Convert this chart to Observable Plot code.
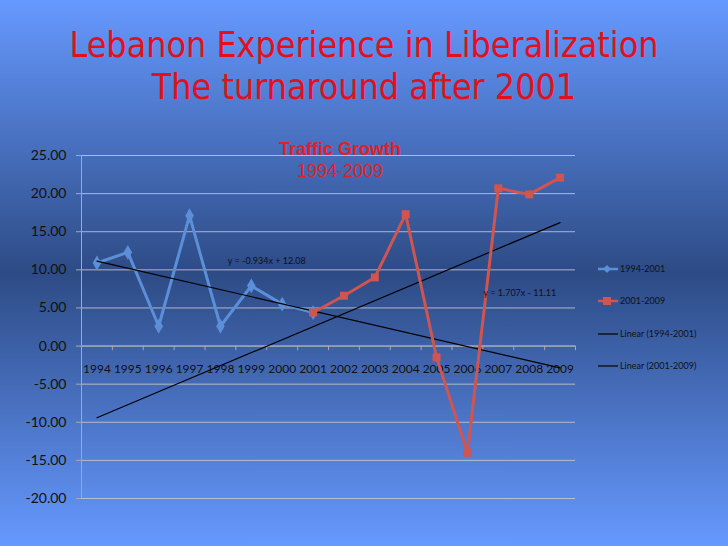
<!DOCTYPE html>
<html>
<head>
<meta charset="utf-8">
<script src="https://cdn.jsdelivr.net/npm/d3@7"></script>
<script src="https://cdn.jsdelivr.net/npm/@observablehq/plot@0.6"></script>
<style>
  html, body { margin: 0; padding: 0; }
  #page {
    position: relative; width: 728px; height: 546px; overflow: hidden;
    background: linear-gradient(to bottom, #6699ff 0%, #2d4b85 50%, #6699ff 100%);
  }
  #title {
    position: absolute; left: 0; top: 0; width: 728px; height: 130px;
    text-align: center; color: #e3101c;
    font-family: "DejaVu Sans", sans-serif; font-stretch: condensed;
    font-size: 35.5px; line-height: 42px; padding-top: 24px; box-sizing: border-box;
  }
  #chart { position: absolute; left: 0; top: 130px; }
  .ct { position: absolute; width: 200px; text-align: center; color: #e3202a;
        font-family: "Liberation Sans", Arial, sans-serif; font-size: 18px; line-height: 20px; }
  #legend { position: absolute; left: 596px; top: 262px; font-family: Lato, sans-serif;
            font-size: 9px; color: #111; }
  .li { position: absolute; left: 0; height: 14px; white-space: nowrap; }
  .li svg { position: absolute; left: 0; top: 0; }
  .li span { position: absolute; left: 24px; top: 1px; }
</style>
</head>
<body>
<div id="page">
  <div id="title">Lebanon Experience in Liberalization<br>The turnaround after 2001</div>
  <div id="chart"></div>
  <div class="ct" style="left:240px; top:139px; font-weight:bold;">Traffic Growth</div>
  <div class="ct" style="left:240px; top:161px;">1994-2009</div>
  <div id="legend"></div>
</div>
<script>
// Categories
const years = [1994,1995,1996,1997,1998,1999,2000,2001,2002,2003,2004,2005,2006,2007,2008,2009];
// Series "1994-2001"
const years1 = [1994,1995,1996,1997,1998,1999,2000,2001];
const values1 = [10.9, 12.3, 2.6, 17.1, 2.6, 7.9, 5.5, 4.4];
// Series "2001-2009"
const years2 = [2001,2002,2003,2004,2005,2006,2007,2008,2009];
const values2 = [4.4, 6.6, 9.0, 17.3, -1.5, -14.0, 20.7, 19.9, 22.1];
// Linear trend lines (endpoint values)
const trendYears = [1994, 2009];
const trend1Values = [11.15, -2.86];
const trend2Values = [-9.40, 16.20];
// Trend equations
const eqLabels = ["y = -0.934x + 12.08", "y = 1.707x - 11.11"];
const eqYears = [1999.5, 2007.7];
const eqValues = [11.2, 7.0];
// Y ticks
const yTicks = [-20,-15,-10,-5,0,5,10,15,20,25];
// Legend
const legendLabels = ["1994-2001", "2001-2009", "Linear (1994-2001)", "Linear (2001-2009)"];

const blue = "#5b8fd8", red = "#d0544f";
const s1 = years1.map((y, i) => ({year: y, value: values1[i]}));
const s2 = years2.map((y, i) => ({year: y, value: values2[i]}));
const t1 = trendYears.map((y, i) => ({year: y, value: trend1Values[i]}));
const t2 = trendYears.map((y, i) => ({year: y, value: trend2Values[i]}));
const eq = eqLabels.map((t, i) => ({text: t, year: eqYears[i], value: eqValues[i]}));
const bounds = [years[0] - 0.5, ...years.map(y => y + 0.5)];

const chart = Plot.plot({
  width: 728, height: 416,
  marginLeft: 81, marginRight: 153, marginTop: 25, marginBottom: 48,
  style: {background: "transparent", fontFamily: "Lato, sans-serif"},
  x: {domain: [years[0] - 0.5, years[years.length - 1] + 0.5], axis: null},
  y: {domain: [-20, 25], axis: null},
  marks: [
    Plot.gridY(yTicks, {stroke: "#c8c8c8", strokeOpacity: 0.85, strokeWidth: 1}),
    Plot.ruleX([bounds[0]], {stroke: "#a8a8b0", strokeWidth: 1}),
    Plot.ruleY([0], {stroke: "#a8a8b0", strokeWidth: 1}),
    Plot.ruleX(bounds, {x: d => d, y1: 0, y2: -0.6, stroke: "#a8a8b0"}),
    Plot.axisY(yTicks, {anchor: "left", label: null, tickSize: 5, tickPadding: 10, stroke: "#a8a8b0",
      tickFormat: d => d.toFixed(2), fontSize: 14, fill: "#111", textStroke: "none"}),
    Plot.text(years, {x: d => d, y: () => 0, dy: 23, text: d => String(d), fontSize: 12, fill: "#111"}),
    Plot.line(s1, {x: "year", y: "value", stroke: blue, strokeWidth: 3}),
    Plot.dot(s1, {x: "year", y: "value", symbol: "diamond", r: 4.5, fill: blue}),
    Plot.line(t1, {x: "year", y: "value", stroke: "#000", strokeWidth: 1.2}),
    Plot.line(t2, {x: "year", y: "value", stroke: "#000", strokeWidth: 1.2}),
    Plot.line(s2, {x: "year", y: "value", stroke: red, strokeWidth: 3}),
    Plot.dot(s2, {x: "year", y: "value", symbol: "square", r: 4.5, fill: red}),
    Plot.text(eq, {x: "year", y: "value", text: "text", fontSize: 9, fill: "#111"})
  ]
});
document.getElementById("chart").appendChild(chart);

// Legend
const legend = document.getElementById("legend");
const legendStyles = [
  {stroke: blue, w: 2.5, sym: "diamond", fill: blue},
  {stroke: red, w: 2.5, sym: "square", fill: red},
  {stroke: "#000", w: 1.2, sym: null},
  {stroke: "#000", w: 1.2, sym: null}
];
legendLabels.forEach((lab, i) => {
  const st = legendStyles[i];
  const div = document.createElement("div");
  div.className = "li";
  div.style.top = (i * 32.3) + "px";
  let sym = "";
  if (st.sym === "diamond") sym = `<path d="M11,3 L15,7 L11,11 L7,7 Z" fill="${st.fill}"/>`;
  if (st.sym === "square") sym = `<rect x="7" y="3" width="8" height="8" fill="${st.fill}"/>`;
  div.innerHTML = `<svg width="24" height="14"><line x1="2" x2="22" y1="7" y2="7" stroke="${st.stroke}" stroke-width="${st.w}"/>${sym}</svg><span>${lab}</span>`;
  legend.appendChild(div);
});
</script>
</body>
</html>
